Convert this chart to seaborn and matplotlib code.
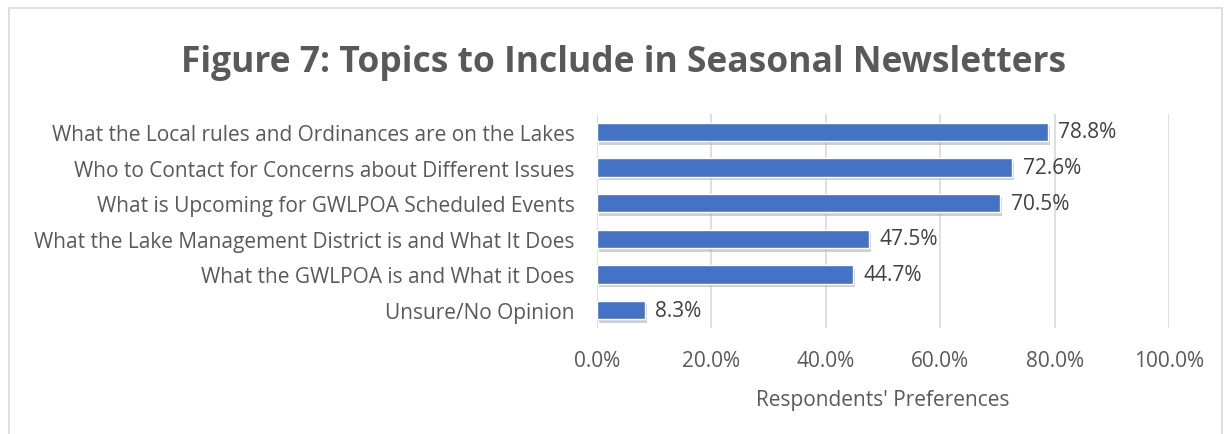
import matplotlib
matplotlib.use("Agg")
import matplotlib.pyplot as plt
import matplotlib.patheffects as pe
from matplotlib.patches import Rectangle
from matplotlib.ticker import FuncFormatter
import pandas as pd
import seaborn as sns

topics = [
    "What the Local rules and Ordinances are on the Lakes",
    "Who to Contact for Concerns about Different Issues",
    "What is Upcoming for GWLPOA Scheduled Events",
    "What the Lake Management District is and What It Does",
    "What the GWLPOA is and What it Does",
    "Unsure/No Opinion",
]
shares = [78.8, 72.6, 70.5, 47.5, 44.7, 8.3]
x_ticks = [0, 20, 40, 60, 80, 100]

df = pd.DataFrame({"topic": topics, "share": shares})

sns.set_style("white")
plt.rcParams["font.family"] = ["Open Sans", "DejaVu Sans"]

text_col = "#595959"
fig = plt.figure(figsize=(12.28, 4.35), dpi=100)
ax = fig.add_axes([0.4862, 0.2437, 0.4658, 0.4919])

sns.barplot(data=df, x="share", y="topic", color="#4472C4", saturation=1,
            width=0.52, ax=ax, zorder=3)
for bar in ax.patches:
    bar.set_path_effects([pe.SimplePatchShadow(offset=(1.5, -2.5), shadow_rgbFace="#b0b0b0", alpha=0.6),
                          pe.Normal()])

for i, v in enumerate(shares):
    ax.text(v + 1.8, i, f"{v:.1f}%", va="center", ha="left", fontsize=15, color="#404040")

ax.set_xlim(0, 100)
ax.set_xticks(x_ticks)
ax.xaxis.set_major_formatter(FuncFormatter(lambda v, p: f"{v:.1f}%"))
ax.grid(axis="x", color="#D9D9D9", linewidth=1.2, zorder=0)
for s in ax.spines.values():
    s.set_visible(False)
ax.tick_params(axis="both", length=0, labelsize=15, colors=text_col)
ax.tick_params(axis="x", pad=16)
ax.tick_params(axis="y", pad=16)
ax.set_ylabel("")
ax.set_xlabel("Respondents' Preferences", fontsize=15, color=text_col, labelpad=13)

fig.text(0.5077, 0.855, "Figure 7: Topics to Include in Seasonal Newsletters",
         ha="center", va="center", fontsize=25.5, fontweight="bold", color=text_col)

fig.patches.append(Rectangle((9 / 1228, -0.05), 1213 / 1228, 1.05 - 9 / 435,
                             transform=fig.transFigure, fill=False,
                             edgecolor="#D9D9D9", linewidth=1.2))

fig.savefig("out.png", dpi=100)
